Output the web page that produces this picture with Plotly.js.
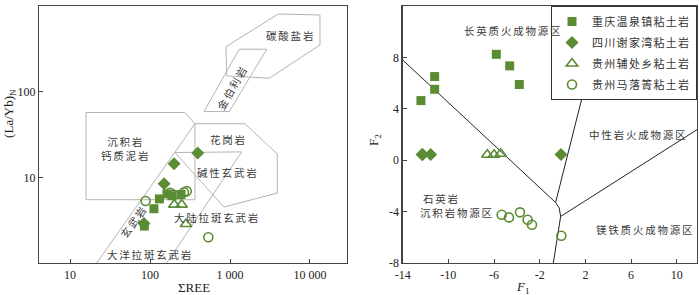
<!DOCTYPE html>
<html>
<head>
<meta charset="utf-8">
<script src="https://cdn.plot.ly/plotly-3.0.1.min.js"></script>
<style>html,body{margin:0;padding:0;background:#fff;}#chart{width:700px;height:295px;}</style>
</head>
<body>
<div id="chart"></div>
<script>
// ---------- Series names ----------
const seriesNames = ['重庆温泉镇粘土岩', '四川谢家湾粘土岩', '贵州辅处乡粘土岩', '贵州马落箐粘土岩'];

// ---------- Left panel: ΣREE vs (La/Yb)N ----------
const cqREE  = [85, 112, 131, 163, 188, 244];
const cqLaYb = [2.7, 4.3, 5.6, 6.4, 6.1, 6.3];
const scREE  = [84, 150, 200, 395];
const scLaYb = [2.9, 8.4, 14.4, 19.2];
const gzfREE  = [201, 249, 282];
const gzfLaYb = [4.8, 4.8, 2.85];
const gzmREE  = [88, 178, 196, 266, 288, 536];
const gzmLaYb = [5.3, 6.6, 6.3, 6.7, 6.9, 2.0];

// field boundaries (left panel)
const carbX = [4018, 13335, 13335, 3100, 909, 891, 4018];
const carbY = [807, 785, 351, 143.6, 152.8, 335.6, 807];
const kimbX = [1306, 2876, 980, 473, 1306];
const kimbY = [313, 313, 58.6, 58.6, 313];
const sedX  = [15.85, 273.8, 365, 365, 15.85, 15.85];
const sedY  = [57.1, 57.1, 42.2, 5.48, 5.48, 57.1];
const basLX = [21.6, 365];
const basLY = [1.0, 42.2];
const graX  = [365, 1540, 3900, 3900, 841, 205, 1400, 161.7];
const graY  = [42.2, 42.2, 18.7, 6.56, 4.5, 19.5, 19.8, 1.0];

const leftLabels = ['碳酸盐岩', '金伯利岩', '沉积岩<br>钙质泥岩', '花岗岩', '碱性玄武岩', '大陆拉斑玄武岩', '大洋拉斑玄武岩', '玄武岩'];
const leftLabX   = [5740, 1050, 48.7, 952, 952, 682, 100, 62];
const leftLabY   = [447, 112.8, 21.7, 27.9, 11.4, 3.36, 1.25, 3.06];
const leftLabAng = [0, -60, 0, 0, 0, 0, 0, -55];

// ---------- Right panel: F1 vs F2 ----------
const cqF1 = [-12.40, -11.20, -11.20, -5.80, -4.63, -3.79];
const cqF2 = [4.64, 6.51, 5.52, 8.24, 7.34, 5.89];
const scF1 = [-12.31, -12.25, -11.55, -0.14];
const scF2 = [0.45, 0.45, 0.45, 0.45];
const gzfF1 = [-6.59, -6.0, -5.42];
const gzfF2 = [0.42, 0.42, 0.5];
const gzmF1 = [-5.33, -4.69, -3.73, -3.06, -2.68, -0.11];
const gzmF2 = [-4.24, -4.45, -4.06, -4.63, -5.02, -5.88];

// field boundaries (right panel)
const bA_X = [-14, -0.61, -0.29, -0.17, -0.81];
const bA_Y = [7.8, -3.29, -3.73, -4.38, -8];
const bB_X = [-0.61, 3.73];
const bB_Y = [-3.29, 12];
const bC_X = [-0.17, 11.97];
const bC_Y = [-4.38, 2.49];

const rightLabels = ['长英质火成物源区', '中性岩火成物源区', '镁铁质火成物源区', '石英岩', '沉积岩物源区'];
const rightLabX = [-4.31, 6.58, 7.22, -10.58, -9.27];
const rightLabY = [10.08, 1.97, -5.42, -3.0, -4.05];

// ---------- Ticks ----------
const lxTickVals = [10, 100, 1000, 10000];
const lxTickText = ['10', '100', '1 000', '10 000'];
const lyTickVals = [10, 100, 1000];
const lyTickText = ['10', '100', '1 000'];
const rxTickVals = [-14, -10, -6, -2, 2, 6, 10];
const rxTickText = ['-14', '-10', '-6', '-2', '2', '6', '10'];
const ryTickVals = [-8, -4, 0, 4, 8, 12];
const ryTickText = ['-8', '-4', '0', '4', '8', '12'];

// ---------- Styles ----------
const green = '#5b8c34';
const fieldGray = '#b4b4b4';
const cjk = 'Noto Sans CJK SC, Noto Sans, sans-serif';
const serif = 'Liberation Serif, DejaVu Serif, serif';
function spaced(t, px) {
  return t.split('<br>').map(s => '<span style="letter-spacing:' + px + 'px">' + s + '</span>').join('<br>');
}

const traces = [];
function line(x, y, xa, ya, color, w) {
  traces.push({x: x, y: y, xaxis: xa, yaxis: ya, mode: 'lines', type: 'scatter',
    line: {color: color, width: w}, showlegend: false, hoverinfo: 'skip'});
}
// left fields
line(carbX, carbY, 'x', 'y', fieldGray, 1);
line(kimbX, kimbY, 'x', 'y', fieldGray, 1);
line(sedX, sedY, 'x', 'y', fieldGray, 1);
line(basLX, basLY, 'x', 'y', fieldGray, 1);
line(graX, graY, 'x', 'y', fieldGray, 1);
// right fields
line(bA_X, bA_Y, 'x2', 'y2', '#222', 1);
line(bB_X, bB_Y, 'x2', 'y2', '#222', 1);
line(bC_X, bC_Y, 'x2', 'y2', '#222', 1);

const markerStyles = [
  {symbol: 'square', size: 9, color: green, line: {width: 0}},
  {symbol: 'diamond', size: 10, color: green, line: {width: 0}},
  {symbol: 'triangle-up-open', size: 10, color: green, line: {width: 1.6, color: green}},
  {symbol: 'circle-open', size: 9, color: green, line: {width: 1.6, color: green}}
];
const leftX = [cqREE, scREE, gzfREE, gzmREE];
const leftY = [cqLaYb, scLaYb, gzfLaYb, gzmLaYb];
const rightX = [cqF1, scF1, gzfF1, gzmF1];
const rightY = [cqF2, scF2, gzfF2, gzmF2];
for (let i = 0; i < 4; i++) {
  traces.push({x: leftX[i], y: leftY[i], xaxis: 'x', yaxis: 'y', mode: 'markers', type: 'scatter',
    marker: markerStyles[i], name: seriesNames[i], legendgroup: 'g' + i, showlegend: false, cliponaxis: false});
}
for (let i = 0; i < 4; i++) {
  traces.push({x: rightX[i], y: rightY[i], xaxis: 'x2', yaxis: 'y2', mode: 'markers', type: 'scatter',
    marker: markerStyles[i], name: spaced(seriesNames[i], 1.3), legendgroup: 'g' + i, showlegend: true, cliponaxis: false});
}

const labFont = {family: cjk, size: 10.5, color: '#3a3a3a'};
const annotations = [];
for (let i = 0; i < leftLabels.length; i++) {
  annotations.push({xref: 'x', yref: 'y', x: Math.log10(leftLabX[i]), y: Math.log10(leftLabY[i]),
    text: spaced(leftLabels[i], 1.8), showarrow: false, textangle: leftLabAng[i],
    font: labFont, xanchor: 'center', yanchor: 'middle'});
}
for (let i = 0; i < rightLabels.length; i++) {
  annotations.push({xref: 'x2', yref: 'y2', x: rightLabX[i], y: rightLabY[i],
    text: spaced(rightLabels[i], 1.8), showarrow: false,
    font: labFont, xanchor: 'center', yanchor: 'middle'});
}
// axis titles
const titleFont = {family: serif, size: 13, color: '#222'};
annotations.push({xref: 'paper', yref: 'paper', x: 0.2356, y: -0.097, text: 'ΣREE', showarrow: false, font: titleFont, xanchor: 'center', yanchor: 'middle'});
annotations.push({xref: 'paper', yref: 'paper', x: 0.7356, y: -0.097, text: '<i>F</i><sub>1</sub>', showarrow: false, font: titleFont, xanchor: 'center', yanchor: 'middle'});
annotations.push({xref: 'paper', yref: 'paper', x: -0.0441, y: 0.584, text: '(La/Yb)<sub>N</sub>', textangle: -90, showarrow: false, font: titleFont, xanchor: 'center', yanchor: 'middle'});
annotations.push({xref: 'paper', yref: 'paper', x: 0.5106, y: 0.4786, text: 'F<sub>2</sub>', textangle: -90, showarrow: false, font: titleFont, xanchor: 'center', yanchor: 'middle'});

const axCommon = {showline: true, mirror: true, linecolor: '#444', linewidth: 1.2, showgrid: false, zeroline: false,
  ticks: 'inside', ticklen: 4, tickwidth: 1, tickcolor: '#444', tickmode: 'array',
  tickfont: {family: serif, size: 12, color: '#222'}};

const layout = {
  width: 700, height: 295,
  margin: {l: 39, r: 3, t: 6, b: 32, pad: 0},
  paper_bgcolor: '#fff', plot_bgcolor: '#fff',
  showlegend: true,
  legend: {x: 1, y: 1, xanchor: 'right', yanchor: 'top', bgcolor: '#fff', bordercolor: '#333', borderwidth: 1,
    font: {family: cjk, size: 11, color: '#333'}, traceorder: 'grouped', tracegroupgap: 2},
  xaxis: Object.assign({}, axCommon, {type: 'log', range: [0.6125, 4.466], domain: [0, 0.4685], anchor: 'y',
    tickvals: lxTickVals, ticktext: lxTickText}),
  yaxis: Object.assign({}, axCommon, {type: 'log', range: [0, 3], domain: [0, 1], anchor: 'x',
    tickvals: lyTickVals, ticktext: lyTickText}),
  xaxis2: Object.assign({}, axCommon, {range: [-14, 11.77], domain: [0.5527, 1], anchor: 'y2',
    tickvals: rxTickVals, ticktext: rxTickText}),
  yaxis2: Object.assign({}, axCommon, {range: [-8, 12], domain: [0, 1], anchor: 'x2',
    tickvals: ryTickVals, ticktext: ryTickText}),
  annotations: annotations
};

Plotly.newPlot('chart', traces, layout, {staticPlot: true, displayModeBar: false});
</script>
</body>
</html>
